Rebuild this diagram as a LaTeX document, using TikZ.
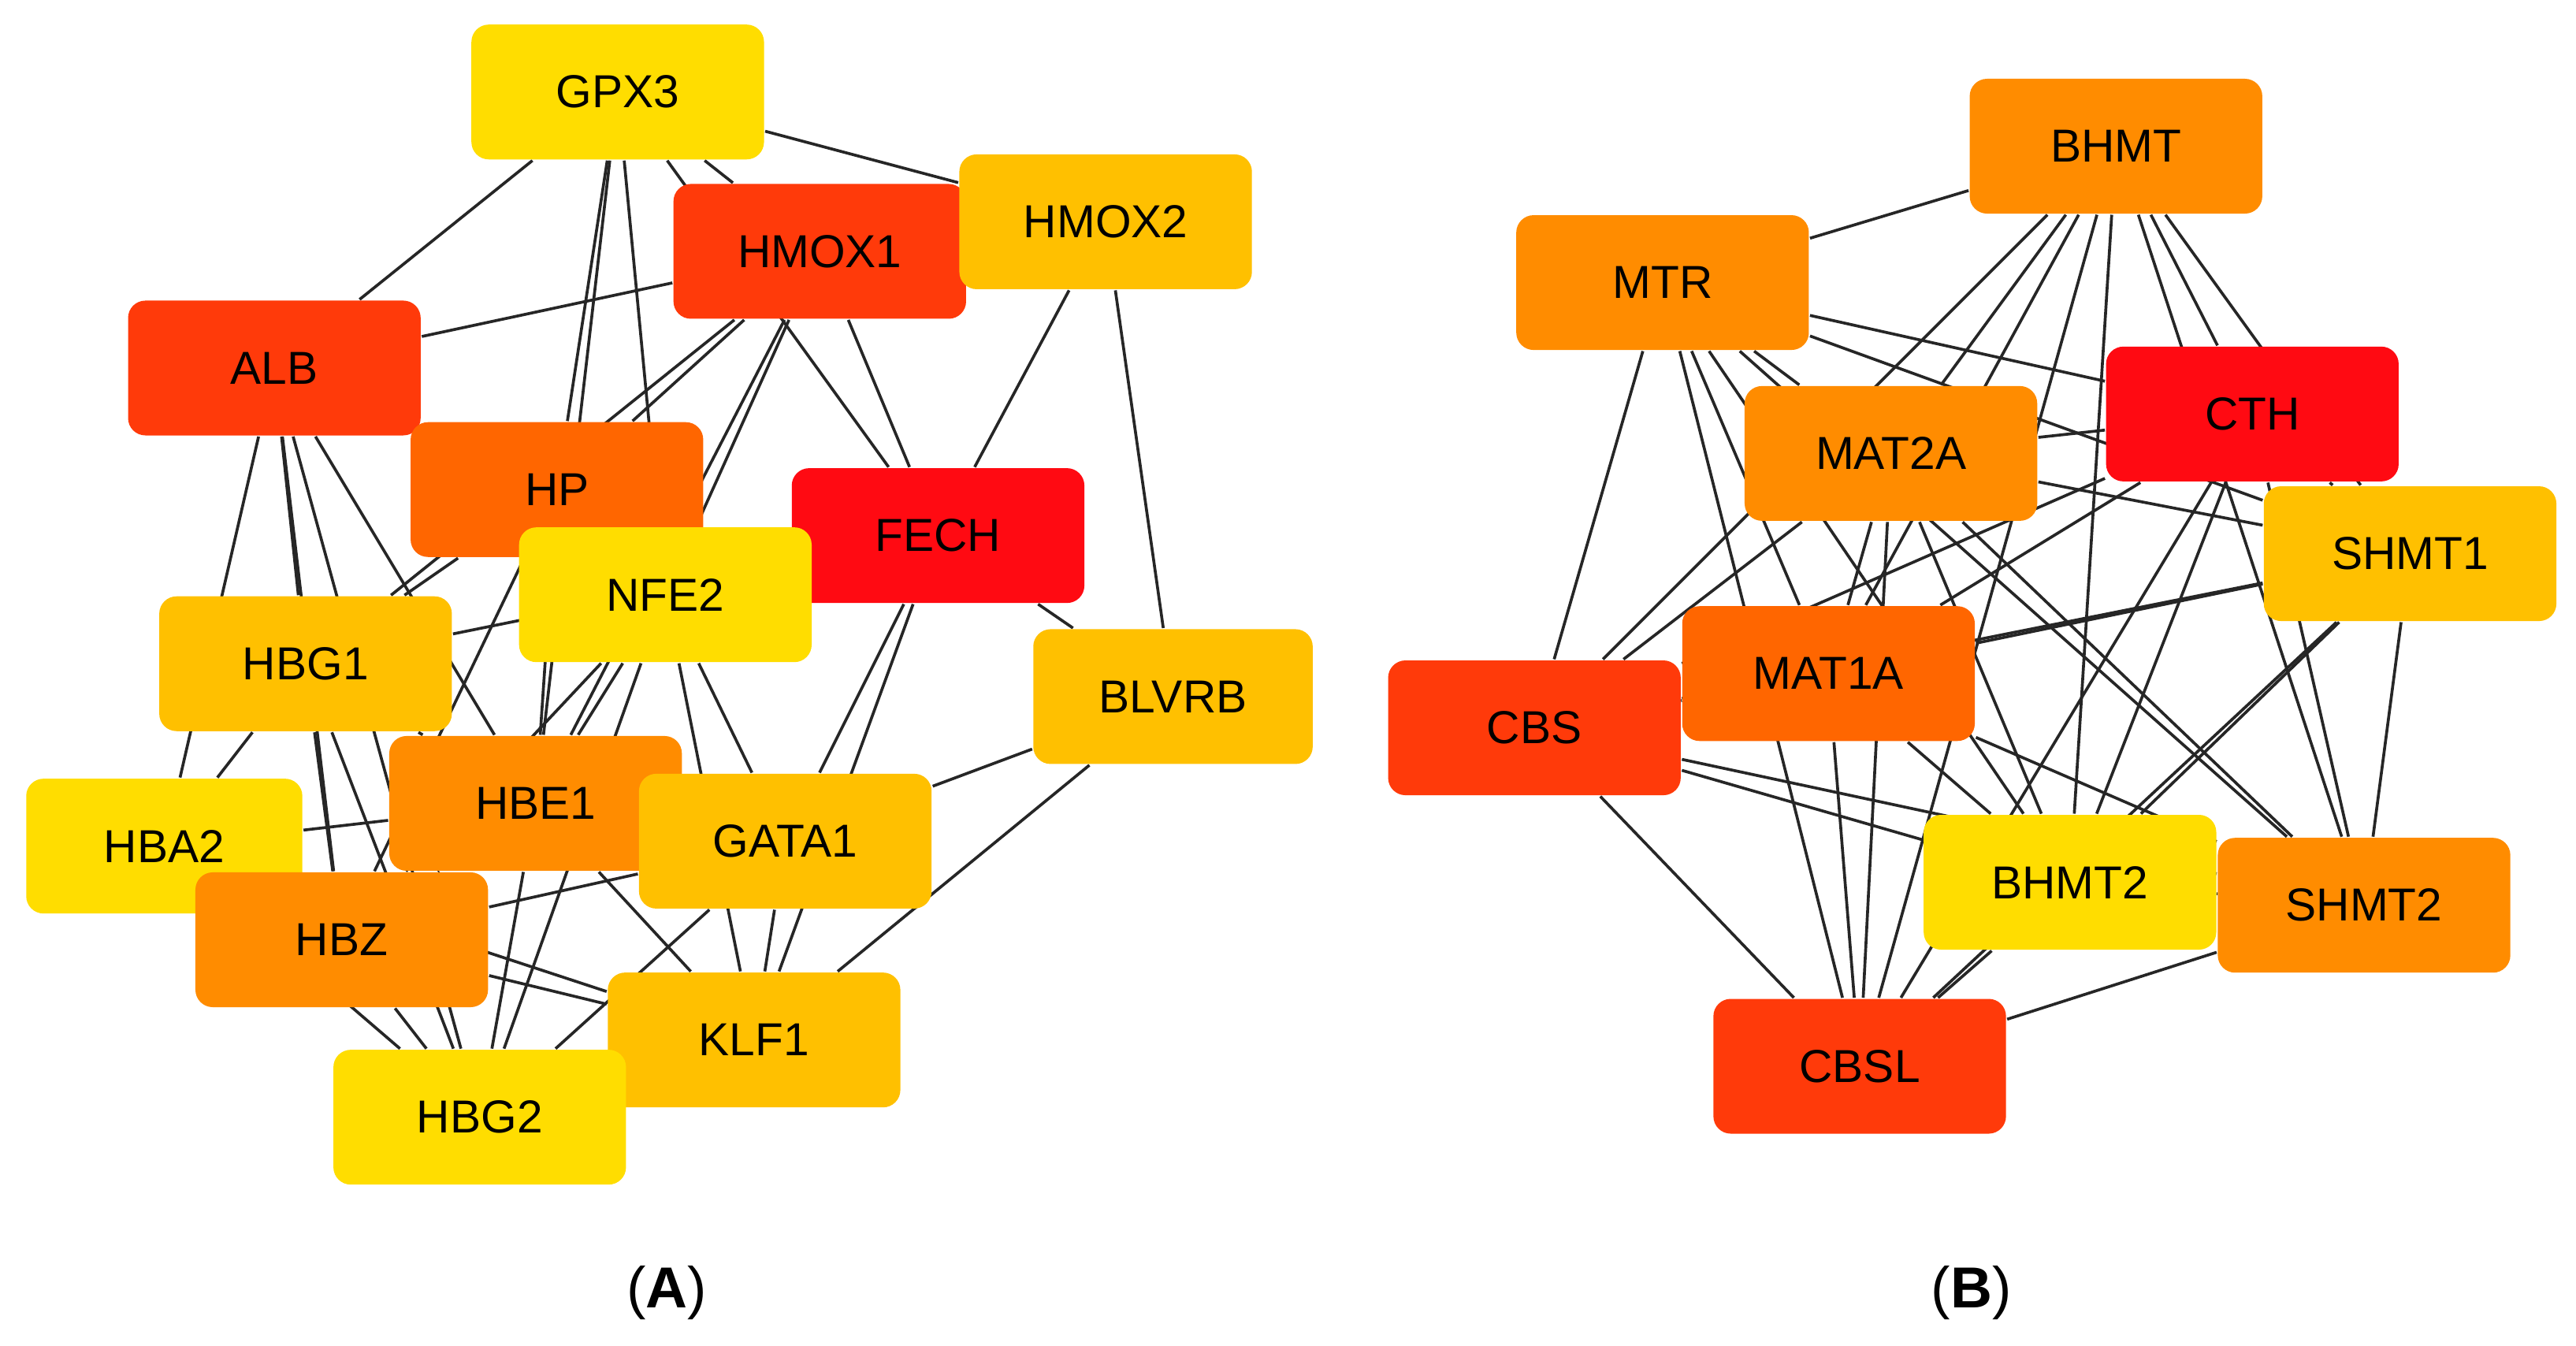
\documentclass[tikz,border=0pt]{standalone}
\usepackage{fontspec}
\setmainfont{Liberation Sans}
\usetikzlibrary{backgrounds}
\definecolor{cyel}{HTML}{FFDD00}
\definecolor{corg}{HTML}{FFC000}
\definecolor{cora}{HTML}{FF8C00}
\definecolor{cdor}{HTML}{FF6600}
\definecolor{cred}{HTML}{FF3A0A}
\definecolor{cfe}{HTML}{FF0A12}
\tikzset{gene/.style={rectangle,rounded corners=3pt,minimum width=1.78cm,minimum height=0.82cm,inner sep=0pt,font=\fontsize{8}{9}\selectfont}}
\begin{document}
\begin{tikzpicture}[x=0.01cm,y=-0.01cm]
  \useasboundingbox (0,0) rectangle (1568,819);
  % panel A
  \node[gene,fill=cyel] (gpx3) at (376,56) {GPX3};
  \node[gene,fill=cred] (hmox1) at (499,153) {HMOX1};
  \node[gene,fill=corg] (hmox2) at (673,135) {HMOX2};
  \node[gene,fill=cred] (alb) at (167,224) {ALB};
  \node[gene,fill=cdor] (hp) at (339,298) {HP};
  \node[gene,fill=cfe] (fech) at (571,326) {FECH};
  \node[gene,fill=cyel] (nfe2) at (405,362) {NFE2};
  \node[gene,fill=corg] (hbg1) at (186,404) {HBG1};
  \node[gene,fill=corg,minimum width=1.70cm] (blvrb) at (714,424) {BLVRB};
  \node[gene,fill=cora] (hbe1) at (326,489) {HBE1};
  \node[gene,fill=corg] (gata1) at (478,512) {GATA1};
  \node[gene,fill=cyel,minimum width=1.68cm] (hba2) at (100,515) {HBA2};
  \node[gene,fill=cora] (hbz) at (208,572) {HBZ};
  \node[gene,fill=corg] (klf1) at (459,633) {KLF1};
  \node[gene,fill=cyel] (hbg2) at (292,680) {HBG2};
  % panel B
  \node[gene,fill=cora] (bhmt) at (1288,89) {BHMT};
  \node[gene,fill=cora] (mtr) at (1012,172) {MTR};
  \node[gene,fill=cfe] (cth) at (1371,252) {CTH};
  \node[gene,fill=cora] (mat2a) at (1151,276) {MAT2A};
  \node[gene,fill=corg] (shmt1) at (1467,337) {SHMT1};
  \node[gene,fill=cdor] (mat1a) at (1113,410) {MAT1A};
  \node[gene,fill=cred] (cbs) at (934,443) {CBS};
  \node[gene,fill=cyel] (bhmt2) at (1260,537) {BHMT2};
  \node[gene,fill=cora] (shmt2) at (1439,551) {SHMT2};
  \node[gene,fill=cred] (cbsl) at (1132,649) {CBSL};
  % captions
  \node[font=\fontsize{10}{12}\selectfont\rmfamily] (capa) at (406,787) {(\textbf{A})};
  \node[font=\fontsize{10}{12}\selectfont\rmfamily] (capb) at (1200,787) {(\textbf{B})};

  \begin{scope}[on background layer]
  \path[draw=black!85,line width=0.5pt]
  (gpx3) edge (alb) edge (hmox1) edge (hmox2) edge (hp) edge (nfe2) edge (hbe1) edge (fech)
  (hmox1) edge (alb) edge (hp) edge (fech) edge (nfe2) edge (hbe1) edge (hbg1)
  (hmox2) edge (fech) edge (blvrb)
  (alb) edge (hp) edge (hbg1) edge (hba2) edge (hbz) edge (hbe1) edge (hbg2)
  (hp) edge (hbg1) edge (hbe1) edge (hbz) edge (nfe2)
  (fech) edge (nfe2) edge (gata1) edge (klf1) edge (blvrb) edge (hbg1)
  (nfe2) edge (hbe1) edge (gata1) edge (hbg2) edge (hbz) edge (klf1)
  (hbg1) edge (hba2) edge (hbz) edge (hbe1) edge (hbg2)
  (hbe1) edge (hba2) edge (hbz) edge (hbg2) edge (klf1) edge (gata1)
  (gata1) edge (klf1) edge (hbg2) edge (blvrb) edge (hbz)
  (klf1) edge (hbz) edge (hbg2) edge (blvrb) edge (hba2)
  (hba2) edge (hbz) edge (hbg2)
  (hbz) edge (hbg2)
  (bhmt) edge (mtr) edge (mat2a) edge (cth) edge (mat1a) edge (shmt1) edge (shmt2) edge (bhmt2) edge (cbs) edge (cbsl)
  (mtr) edge (cth) edge (mat2a) edge (mat1a) edge (cbs) edge (shmt1) edge (bhmt2) edge (shmt2) edge (cbsl)
  (cth) edge (mat2a) edge (mat1a) edge (cbs) edge (shmt1) edge (bhmt2) edge (shmt2) edge (cbsl)
  (mat2a) edge (shmt1) edge (cbs) edge (mat1a) edge (bhmt2) edge (shmt2) edge (cbsl)
  (shmt1) edge (mat1a) edge (bhmt2) edge (shmt2) edge (cbsl) edge (cbs)
  (mat1a) edge (cbs) edge (bhmt2) edge (shmt2) edge (cbsl)
  (cbs) edge (bhmt2) edge (shmt2) edge (cbsl)
  (bhmt2) edge (shmt2) edge (cbsl)
  (shmt2) edge (cbsl);
  \end{scope}
\end{tikzpicture}
\end{document}
